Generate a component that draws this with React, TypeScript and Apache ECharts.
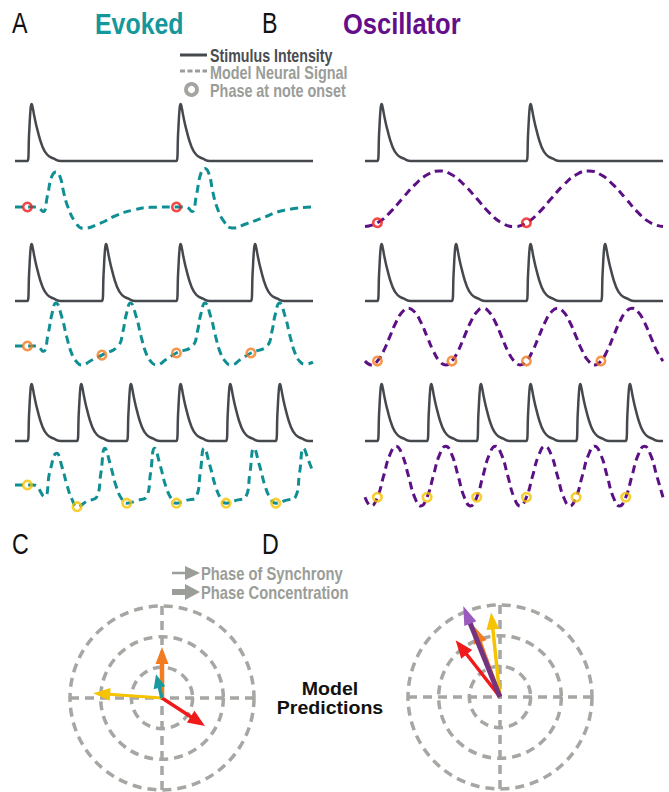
import React, { useEffect, useRef } from 'react';
import * as echarts from 'echarts';

// ---------------- DATA ----------------
// time axis of every trace, in ms
const T_MAX = 1200;

// note onsets (ms) for the three tempi
const onsetsSlow = [50, 650];
const onsetsMid = [50, 350, 650, 950];
const onsetsFast = [50, 250, 450, 650, 850, 1050];

// one stimulus-intensity pulse: [ms after onset, normalised intensity]
const pulseShape: [number, number][] = [
  [0, 0], [7, 0.5], [13, 0.93], [17, 1], [22, 0.92], [28, 0.78], [40, 0.55],
  [60, 0.26], [80, 0.11], [107, 0.04], [135, 0],
];

// evoked model neural signal [ms, amplitude]
const evokedSlow: [number, number][] = [
  [0, 0], [50, 0], [88, 0], [113, -0.13], [130, 0.3], [148, 0.87], [165, 1.0], [181, 0.87],
  [197, 0.39], [213, 0], [242, -0.42], [274, -0.61], [342, -0.47], [411, -0.23], [475, -0.09],
  [544, -0.01], [650, 0], [688, 0], [713, -0.13], [730, 0.32], [748, 0.95], [765, 1.1],
  [781, 0.95], [797, 0.42], [813, 0], [842, -0.42], [874, -0.6], [935, -0.47], [990, -0.33],
  [1080, -0.1], [1200, 0],
];
const evokedMid: [number, number][] = [
  [0, 0], [50, 0], [88, 0], [113, -0.16], [134, 0.37], [148, 0.89], [165, 1.23], [188, 0.84],
  [208, 0.27], [228, -0.21], [248, -0.45], [268, -0.54], [310, -0.4], [350, -0.26], [415, 0],
  [434, 0.4], [448, 0.9], [465, 1.23], [488, 0.84], [508, 0.27], [528, -0.21], [548, -0.45],
  [568, -0.54], [610, -0.38], [650, -0.2], [715, 0], [734, 0.4], [748, 0.9], [765, 1.23],
  [788, 0.84], [808, 0.27], [828, -0.21], [848, -0.45], [868, -0.54], [910, -0.38], [950, -0.2],
  [1015, 0], [1034, 0.4], [1048, 0.9], [1065, 1.23], [1088, 0.84], [1108, 0.27], [1128, -0.21],
  [1148, -0.45], [1168, -0.52], [1200, -0.46],
];
const evokedFast: [number, number][] = [
  [0, 0], [50, 0], [75, 0], [118, -0.33], [141, 0.4], [168, 0.91], [190, 0.5], [210, -0.02],
  [230, -0.42], [250, -0.62], [290, -0.46], [330, -0.33], [346, 0.35], [362, 1.05], [385, 0.55],
  [408, -0.05], [430, -0.4], [450, -0.52], [490, -0.44], [530, -0.33], [546, 0.35], [562, 1.05],
  [585, 0.55], [608, -0.05], [630, -0.4], [650, -0.52], [690, -0.44], [730, -0.33], [746, 0.35],
  [762, 1.05], [785, 0.55], [808, -0.05], [830, -0.4], [850, -0.52], [890, -0.44], [930, -0.33],
  [946, 0.35], [962, 1.05], [985, 0.55], [1008, -0.05], [1030, -0.4], [1050, -0.52], [1090, -0.44],
  [1130, -0.33], [1146, 0.35], [1162, 1.05], [1182, 0.7], [1200, 0.37],
];

// oscillator model neural signal, sampled every `step` ms from 0
const oscSlowStep = 50;
const oscSlow = [
  -0.56, -0.45, -0.16, 0.24, 0.63, 0.92, 1.03, 0.92, 0.63, 0.24, -0.16, -0.45,
  -0.56, -0.45, -0.16, 0.24, 0.63, 0.92, 1.03, 0.92, 0.63, 0.24, -0.16, -0.45, -0.56,
];
const oscMidStep = 25;
const oscMid = [
  -0.43,
  -0.54, -0.43, -0.14, 0.27, 0.68, 0.97, 1.08, 0.97, 0.68, 0.27, -0.14, -0.43,
  -0.54, -0.43, -0.14, 0.27, 0.68, 0.97, 1.08, 0.97, 0.68, 0.27, -0.14, -0.43,
  -0.54, -0.43, -0.14, 0.27, 0.68, 0.97, 1.08, 0.97, 0.68, 0.27, -0.14, -0.43,
  -0.54, -0.43, -0.14, 0.27, 0.68, 0.97, 1.08, 0.97, 0.68, 0.27, -0.14, -0.43,
];
const oscFastStep = 25;
const oscFast = [
  -0.35,
  -0.6, -0.35, 0.26, 0.86, 1.11, 0.86, 0.26, -0.35,
  -0.6, -0.35, 0.26, 0.86, 1.11, 0.86, 0.26, -0.35,
  -0.6, -0.35, 0.26, 0.86, 1.11, 0.86, 0.26, -0.35,
  -0.6, -0.35, 0.26, 0.86, 1.11, 0.86, 0.26, -0.35,
  -0.6, -0.35, 0.26, 0.86, 1.11, 0.86, 0.26, -0.35,
  -0.6, -0.35, 0.26, 0.86, 1.11, 0.86, 0.26, -0.35,
];

// neural signal value at each note onset (phase markers)
const phaseEvokedSlow = [0, 0];
const phaseEvokedMid = [0, -0.26, -0.2, -0.2];
const phaseEvokedFast = [0, -0.62, -0.52, -0.52, -0.52, -0.52];
const phaseOscSlow = [-0.45, -0.45];
const phaseOscMid = [-0.43, -0.43, -0.43, -0.43];
const phaseOscFast = [-0.35, -0.35, -0.35, -0.35, -0.35, -0.35];

// model predictions: [vector length (rings 1..3), phase angle in degrees]
const predictionNames = ['slow', 'medium', 'fast', 'concentration'];
const predictionsEvoked: [number, number][] = [[2.25, 176], [1.67, 327], [1.66, 90], [0.8, 104]];
const predictionsOsc: [number, number][] = [[2.45, 110], [2.35, 128], [2.77, 96], [3.2, 112]];

// ---------------- STYLE / LAYOUT ----------------
const FONT = '"Liberation Sans", Arial, Helvetica, sans-serif';
const STIM_COLOR = '#45494e';
const TEAL = '#0f8f93';
const TEAL_TITLE = '#15989b';
const PURPLE = '#5b1086';
const PURPLE_TITLE = '#640e8c';
const LEGEND_GRAY = '#9a9d98';
const GRID_GRAY = '#a5a7a2';
const RED = '#f01a1a';
const ORANGE = '#f47c20';
const YELLOW = '#f6c300';

const PANEL_LEFT = [15, 365];
const PANEL_WIDTH = 298;
const STIM_TOP = [104, 244, 384];
const STIM_H = 57;
const NEURAL_BASE = [207, 346, 485];
const NEURAL_SCALE = 35;
const NEURAL_MIN = -1;
const NEURAL_MAX = 1.5;

const rows = [
  { onsets: onsetsSlow, evoked: evokedSlow, osc: oscSlow, oscStep: oscSlowStep, phA: phaseEvokedSlow, phB: phaseOscSlow, ring: RED },
  { onsets: onsetsMid, evoked: evokedMid, osc: oscMid, oscStep: oscMidStep, phA: phaseEvokedMid, phB: phaseOscMid, ring: ORANGE },
  { onsets: onsetsFast, evoked: evokedFast, osc: oscFast, oscStep: oscFastStep, phA: phaseEvokedFast, phB: phaseOscFast, ring: YELLOW },
];

const arrowStylesC = [
  { shaft: YELLOW, head: YELLOW, width: 3, headLen: 17, headHalf: 6.5 },
  { shaft: RED, head: RED, width: 3.5, headLen: 17, headHalf: 7 },
  { shaft: ORANGE, head: ORANGE, width: 4.5, headLen: 17, headHalf: 6.5 },
  { shaft: '#1a9aa0', head: '#1a9aa0', width: 3.5, headLen: 14, headHalf: 6 },
];
const arrowStylesD = [
  { shaft: ORANGE, head: ORANGE, width: 4, headLen: 17, headHalf: 7 },
  { shaft: RED, head: RED, width: 3.5, headLen: 18, headHalf: 7 },
  { shaft: YELLOW, head: YELLOW, width: 3.5, headLen: 17, headHalf: 6.5 },
  { shaft: '#74337f', head: '#9a5bbf', width: 5, headLen: 19, headHalf: 6.5 },
];

function stimulusTrain(onsets: number[]): [number, number][] {
  const pts: [number, number][] = [[0, 0]];
  onsets.forEach((o) => pulseShape.forEach(([dt, v]) => pts.push([o + dt, v])));
  pts.push([T_MAX, 0]);
  return pts;
}

function makeArrowRenderer(styles: any[]) {
  return (params: any, api: any) => {
    const st = styles[params.dataIndex];
    const r = api.value(0);
    const a = api.value(1);
    const tip = api.coord([r, a]);
    const base = api.coord([0, a]);
    const dx = tip[0] - base[0];
    const dy = tip[1] - base[1];
    const len = Math.hypot(dx, dy) || 1;
    const ux = dx / len, uy = dy / len, nx = -uy, ny = ux;
    const hl = Math.min(st.headLen, len * 0.75);
    const hw = st.headHalf;
    const sw = st.width / 2;
    const bx = tip[0] - ux * hl, by = tip[1] - uy * hl;
    const sx = bx + ux * 1.5, sy = by + uy * 1.5;
    return {
      type: 'group',
      children: [
        {
          type: 'polygon',
          shape: { points: [[base[0] + nx * sw, base[1] + ny * sw], [sx + nx * sw, sy + ny * sw], [sx - nx * sw, sy - ny * sw], [base[0] - nx * sw, base[1] - ny * sw]] },
          style: { fill: st.shaft },
        },
        {
          type: 'polygon',
          shape: { points: [[bx + nx * hw, by + ny * hw], [tip[0], tip[1]], [bx - nx * hw, by - ny * hw]] },
          style: { fill: st.head },
        },
      ],
    };
  };
}

function txt(text: string, x: number, y: number, size: number, weight: string, fill: string, scaleX = 1, align = 'left') {
  return {
    type: 'text',
    x,
    y,
    scaleX,
    silent: true,
    style: { text, fontSize: size, fontWeight: weight, fontFamily: FONT, fill, verticalAlign: 'middle', align },
  };
}

function buildOption() {
  const grids: any[] = [];
  const xAxes: any[] = [];
  const yAxes: any[] = [];
  const series: any[] = [];

  [0, 1].forEach((p) => {
    rows.forEach((row, r) => {
      const gi = grids.length;
      grids.push({ left: PANEL_LEFT[p], top: STIM_TOP[r], width: PANEL_WIDTH, height: STIM_H });
      xAxes.push({ type: 'value', gridIndex: gi, min: 0, max: T_MAX, show: false });
      yAxes.push({ type: 'value', gridIndex: gi, min: 0, max: 1, show: false });
      series.push({
        type: 'line', xAxisIndex: gi, yAxisIndex: gi, data: stimulusTrain(row.onsets),
        smooth: 0.5, symbol: 'none', clip: false, silent: true,
        lineStyle: { color: STIM_COLOR, width: 2.5 },
      });

      const ni = grids.length;
      grids.push({
        left: PANEL_LEFT[p], top: NEURAL_BASE[r] - NEURAL_MAX * NEURAL_SCALE,
        width: PANEL_WIDTH, height: (NEURAL_MAX - NEURAL_MIN) * NEURAL_SCALE,
      });
      xAxes.push({ type: 'value', gridIndex: ni, min: 0, max: T_MAX, show: false });
      yAxes.push({ type: 'value', gridIndex: ni, min: NEURAL_MIN, max: NEURAL_MAX, show: false });
      const neural = p === 0 ? row.evoked : row.osc.map((v, i) => [i * row.oscStep, v]);
      series.push({
        type: 'line', xAxisIndex: ni, yAxisIndex: ni, data: neural,
        smooth: 0.5, symbol: 'none', clip: false, silent: true,
        lineStyle: { color: p === 0 ? TEAL : PURPLE, width: 3, type: [8, 5] },
      });
      const ph = p === 0 ? row.phA : row.phB;
      series.push({
        type: 'scatter', xAxisIndex: ni, yAxisIndex: ni, z: 5, silent: true,
        data: row.onsets.map((o, i) => [o, ph[i]]),
        symbol: 'circle', symbolSize: 8.5,
        itemStyle: { color: 'rgba(255,255,255,0)', borderColor: row.ring, borderWidth: 2.6 },
      });
    });
  });

  const splitStyle = { color: GRID_GRAY, width: 3.5, type: [9, 6] };
  const polar = [
    { center: [162, 698], radius: 92 },
    { center: [500, 697], radius: 92 },
  ];
  const radiusAxis = [0, 1].map((i) => ({
    polarIndex: i, type: 'value', min: 0, max: 3, interval: 1,
    axisLine: { show: false }, axisTick: { show: false }, axisLabel: { show: false },
    splitLine: { show: true, lineStyle: splitStyle },
  }));
  const angleAxis = [0, 1].map((i) => ({
    polarIndex: i, type: 'value', min: 0, max: 360, interval: 90, startAngle: 0, clockwise: false,
    axisLine: { show: false }, axisTick: { show: false }, axisLabel: { show: false },
    splitLine: { show: true, lineStyle: splitStyle },
  }));

  series.push({
    type: 'custom', coordinateSystem: 'polar', polarIndex: 0, z: 10, silent: true,
    data: predictionsEvoked.map((d, i) => ({ name: predictionNames[i], value: d })),
    renderItem: makeArrowRenderer(arrowStylesC),
  });
  series.push({
    type: 'custom', coordinateSystem: 'polar', polarIndex: 1, z: 10, silent: true,
    data: predictionsOsc.map((d, i) => ({ name: predictionNames[i], value: d })),
    renderItem: makeArrowRenderer(arrowStylesD),
  });

  const graphic = [
    txt('A', 12, 23, 29, 'normal', '#111', 0.8),
    txt('B', 262, 23, 29, 'normal', '#111', 0.8),
    txt('C', 12, 544, 29, 'normal', '#111', 0.8),
    txt('D', 262, 544, 29, 'normal', '#111', 0.8),
    txt('Evoked', 95, 24, 30, 'bold', TEAL_TITLE, 0.83),
    txt('Oscillator', 343, 24, 30, 'bold', PURPLE_TITLE, 0.85),
    { type: 'line', silent: true, shape: { x1: 180, y1: 55, x2: 207, y2: 55 }, style: { stroke: STIM_COLOR, lineWidth: 3 } },
    txt('Stimulus Intensity', 210, 55, 18, 'bold', '#4a4d52', 0.79),
    { type: 'line', silent: true, shape: { x1: 180, y1: 71, x2: 207, y2: 71 }, style: { stroke: LEGEND_GRAY, lineWidth: 3, lineDash: [5, 2.5] } },
    txt('Model Neural Signal', 210, 72, 18, 'bold', LEGEND_GRAY, 0.8),
    { type: 'circle', silent: true, shape: { cx: 191.5, cy: 89.5, r: 5.5 }, style: { fill: 'rgba(0,0,0,0)', stroke: '#a3a5a1', lineWidth: 3.8 } },
    txt('Phase at note onset', 210, 90, 18, 'bold', LEGEND_GRAY, 0.8),
    { type: 'line', silent: true, shape: { x1: 172, y1: 573, x2: 188, y2: 573 }, style: { stroke: LEGEND_GRAY, lineWidth: 2.5 } },
    { type: 'polygon', silent: true, shape: { points: [[185, 566], [200, 573], [185, 580]] }, style: { fill: LEGEND_GRAY } },
    txt('Phase of Synchrony', 201, 573, 18, 'bold', LEGEND_GRAY, 0.82),
    { type: 'rect', silent: true, shape: { x: 172, y: 589, width: 16, height: 6 }, style: { fill: LEGEND_GRAY } },
    { type: 'polygon', silent: true, shape: { points: [[185, 584], [200, 592], [185, 600]] }, style: { fill: LEGEND_GRAY } },
    txt('Phase Concentration', 201, 592, 18, 'bold', LEGEND_GRAY, 0.82),
    txt('Model', 330, 689, 19, 'bold', '#111', 1.03, 'center'),
    txt('Predictions', 330, 708, 19, 'bold', '#111', 1.03, 'center'),
  ];

  return {
    animation: false,
    backgroundColor: '#ffffff',
    grid: grids,
    xAxis: xAxes,
    yAxis: yAxes,
    polar,
    radiusAxis,
    angleAxis,
    series,
    graphic: { elements: graphic },
  };
}

export default function App() {
  const ref = useRef<HTMLDivElement>(null);
  useEffect(() => {
    if (!ref.current) return;
    const chart = echarts.init(ref.current, undefined, { renderer: 'svg' });
    chart.setOption(buildOption() as any);
    return () => chart.dispose();
  }, []);
  return (
    <div
      ref={ref}
      style={{ position: 'absolute', left: 0, top: 0, width: 669, height: 792, background: '#fff' }}
    />
  );
}
